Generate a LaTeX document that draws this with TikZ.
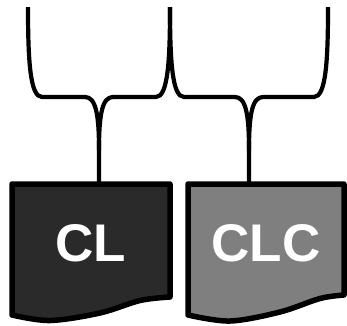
\documentclass[tikz,border=0pt]{standalone}
\usepackage{fontspec}
\setmainfont{Liberation Sans}
\definecolor{darkdoc}{HTML}{2A2A2A}
\definecolor{greydoc}{HTML}{7F7F7F}
\tikzset{
  brace/.style={line width=4.2pt, line join=round, draw=black},
  docbox/.style={line width=5.5pt, line join=round, draw=black},
  doclabel/.style={text=white, font=\fontsize{53}{53}\selectfont\bfseries, anchor=base, inner sep=0pt},
}
\begin{document}
\begin{tikzpicture}[x=1pt, y=-1pt]
\useasboundingbox (0,0) rectangle (347,325);

% document shapes with wavy bottom edge
\draw[docbox, fill=darkdoc] (12,184) -- (170,184)
  -- plot[smooth, tension=0.55] coordinates {(170,297) (140,300.5) (100,313) (50,320.5) (12,315)} -- cycle;
\draw[docbox, fill=greydoc] (188,184) -- (344,184)
  -- plot[smooth, tension=0.55] coordinates {(344,295) (320,298.5) (280,312) (230,321) (188,315)} -- cycle;

\node[doclabel] (cl) at (91,261.5) {CL};
\node[doclabel] (clc) at (266,261.5) {CLC};

% attachment points on the top edges
\coordinate (cltop) at (99,184);
\coordinate (clctop) at (249,184);

% curly braces
\draw[brace] (28,7) .. controls (28,60) and (30,97) .. (42,97) -- (85,97)
  .. controls (96,97) and (99,115) .. (99,150) -- (cltop);
\draw[brace] (99,150) .. controls (99,115) and (102,97) .. (113,97) -- (156,97)
  .. controls (168,97) and (170,60) .. (170,7);
\draw[brace] (170,7) .. controls (170,60) and (172,97) .. (184,97) -- (235,97)
  .. controls (246,97) and (249,115) .. (249,150) -- (clctop);
\draw[brace] (249,150) .. controls (249,115) and (252,97) .. (263,97) -- (314,97)
  .. controls (326,97) and (328,60) .. (328,7);
\end{tikzpicture}
\end{document}
